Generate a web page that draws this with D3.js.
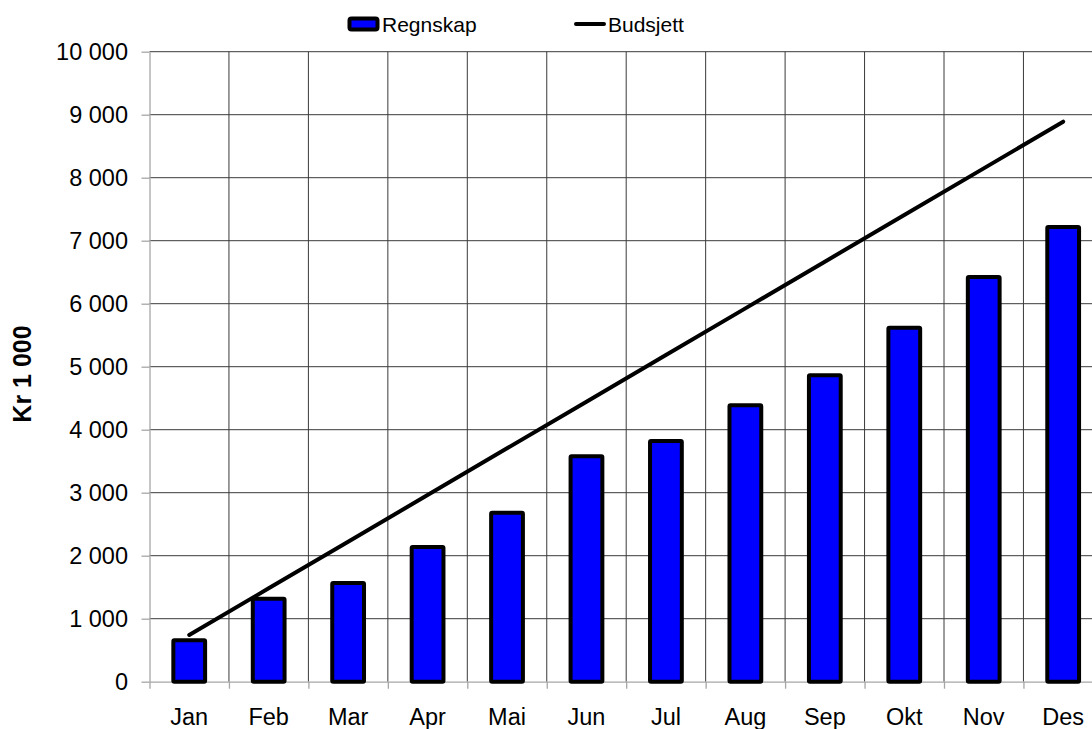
<!DOCTYPE html>
<html>
<head>
<meta charset="utf-8">
<script src="https://cdn.jsdelivr.net/npm/d3@7"></script>
<style>
  body { margin: 0; background: #fff; overflow: hidden; }
  text { font-family: "Liberation Sans", Arial, sans-serif; fill: #000; }
</style>
</head>
<body>
<script>
// values in kr 1 000
var months = ["Jan", "Feb", "Mar", "Apr", "Mai", "Jun", "Jul", "Aug", "Sep", "Okt", "Nov", "Des"];
var regnskap = [657, 1317, 1567, 2138, 2683, 3578, 3821, 4387, 4863, 5619, 6424, 7217];
var budsjett = [741, 1482, 2222, 2963, 3704, 4445, 5185, 5926, 6667, 7408, 8148, 8889];
var yTicks = [0, 1000, 2000, 3000, 4000, 5000, 6000, 7000, 8000, 9000, 10000];
var seriesNames = ["Regnskap", "Budsjett"];

var width = 1092, height = 729;
var plotLeft = 149.5, plotTop = 51.7, plotBottom = 681.7;
var plotW = 12 * 79.45;

var no = d3.formatLocale({decimal: ",", thousands: " ", grouping: [3], currency: ["", " kr"]});
var fmt = no.format(",d");

var svg = d3.select("body").append("svg")
  .attr("width", width)
  .attr("height", height);

var x = d3.scaleBand().domain(months).range([plotLeft, plotLeft + plotW]).padding(0);
var xi = d3.scaleLinear().domain([0, months.length]).range([plotLeft, plotLeft + plotW]);
var y = d3.scaleLinear().domain([0, 10000]).range([plotBottom, plotTop]);

// gridlines
svg.append("g").selectAll("line.h")
  .data(yTicks.slice(1))
.enter().append("line")
  .attr("x1", plotLeft).attr("x2", plotLeft + plotW)
  .attr("y1", function(d) { return y(d); })
  .attr("y2", function(d) { return y(d); })
  .style("stroke", "#3a3a3a").style("stroke-width", 1);

svg.append("g").selectAll("line.v")
  .data(d3.range(1, months.length + 1))
.enter().append("line")
  .attr("x1", function(d) { return xi(d); })
  .attr("x2", function(d) { return xi(d); })
  .attr("y1", plotTop).attr("y2", plotBottom)
  .style("stroke", "#3a3a3a").style("stroke-width", 1);

// y axis
var yAxis = svg.append("g")
  .attr("transform", "translate(" + plotLeft + ",0)")
  .call(d3.axisLeft(y).tickValues(yTicks).tickFormat(fmt).tickSize(8).tickSizeOuter(0).tickPadding(13.5));
yAxis.selectAll("text").style("font-size", "23.5px");

// x axis: boundary ticks + centred labels
var xTicks = svg.append("g")
  .attr("transform", "translate(0," + plotBottom + ")")
  .call(d3.axisBottom(xi).tickValues(d3.range(months.length + 1)).tickFormat("").tickSize(7).tickSizeOuter(0));
var xLabels = svg.append("g")
  .attr("transform", "translate(0," + plotBottom + ")")
  .call(d3.axisBottom(x).tickSize(0).tickPadding(27));
xLabels.select(".domain").remove();
xLabels.selectAll("text").style("font-size", "23.5px");

svg.selectAll(".domain, .tick line").style("stroke", "#a6a6a6").style("stroke-width", 1.3);

// bars
var bw = x.bandwidth() * 0.4;
svg.selectAll("rect.bar")
  .data(regnskap)
.enter().append("rect")
  .attr("class", "bar")
  .attr("x", function(d, i) { return x(months[i]) + (x.bandwidth() - bw) / 2; })
  .attr("width", bw)
  .attr("y", function(d) { return y(d); })
  .attr("height", function(d) { return plotBottom - y(d); })
  .attr("rx", 1)
  .style("fill", "#0000ff")
  .style("stroke", "#000")
  .style("stroke-width", 4);

// budget line
var line = d3.line()
  .x(function(d, i) { return x(months[i]) + x.bandwidth() / 2; })
  .y(function(d) { return y(d); });

svg.append("path")
  .datum(budsjett)
  .attr("d", line)
  .style("fill", "none")
  .style("stroke", "#000")
  .style("stroke-width", 4)
  .style("stroke-linecap", "round");

// y title
svg.append("text")
  .attr("transform", "translate(31,374) rotate(-90)")
  .attr("text-anchor", "middle")
  .style("font-size", "25px")
  .style("font-weight", "bold")
  .text("Kr 1 000");

// legend
var legend = svg.append("g");
legend.append("rect")
  .attr("x", 349.5).attr("y", 18.5)
  .attr("width", 28).attr("height", 11)
  .attr("rx", 2)
  .style("fill", "#0000ff").style("stroke", "#000").style("stroke-width", 4);
legend.append("text")
  .attr("x", 382).attr("y", 31.5)
  .style("font-size", "21px")
  .text(seriesNames[0]);
legend.append("line")
  .attr("x1", 576).attr("x2", 604)
  .attr("y1", 24).attr("y2", 24)
  .style("stroke", "#000").style("stroke-width", 4).style("stroke-linecap", "round");
legend.append("text")
  .attr("x", 608).attr("y", 31.5)
  .style("font-size", "21px")
  .text(seriesNames[1]);
</script>
</body>
</html>
